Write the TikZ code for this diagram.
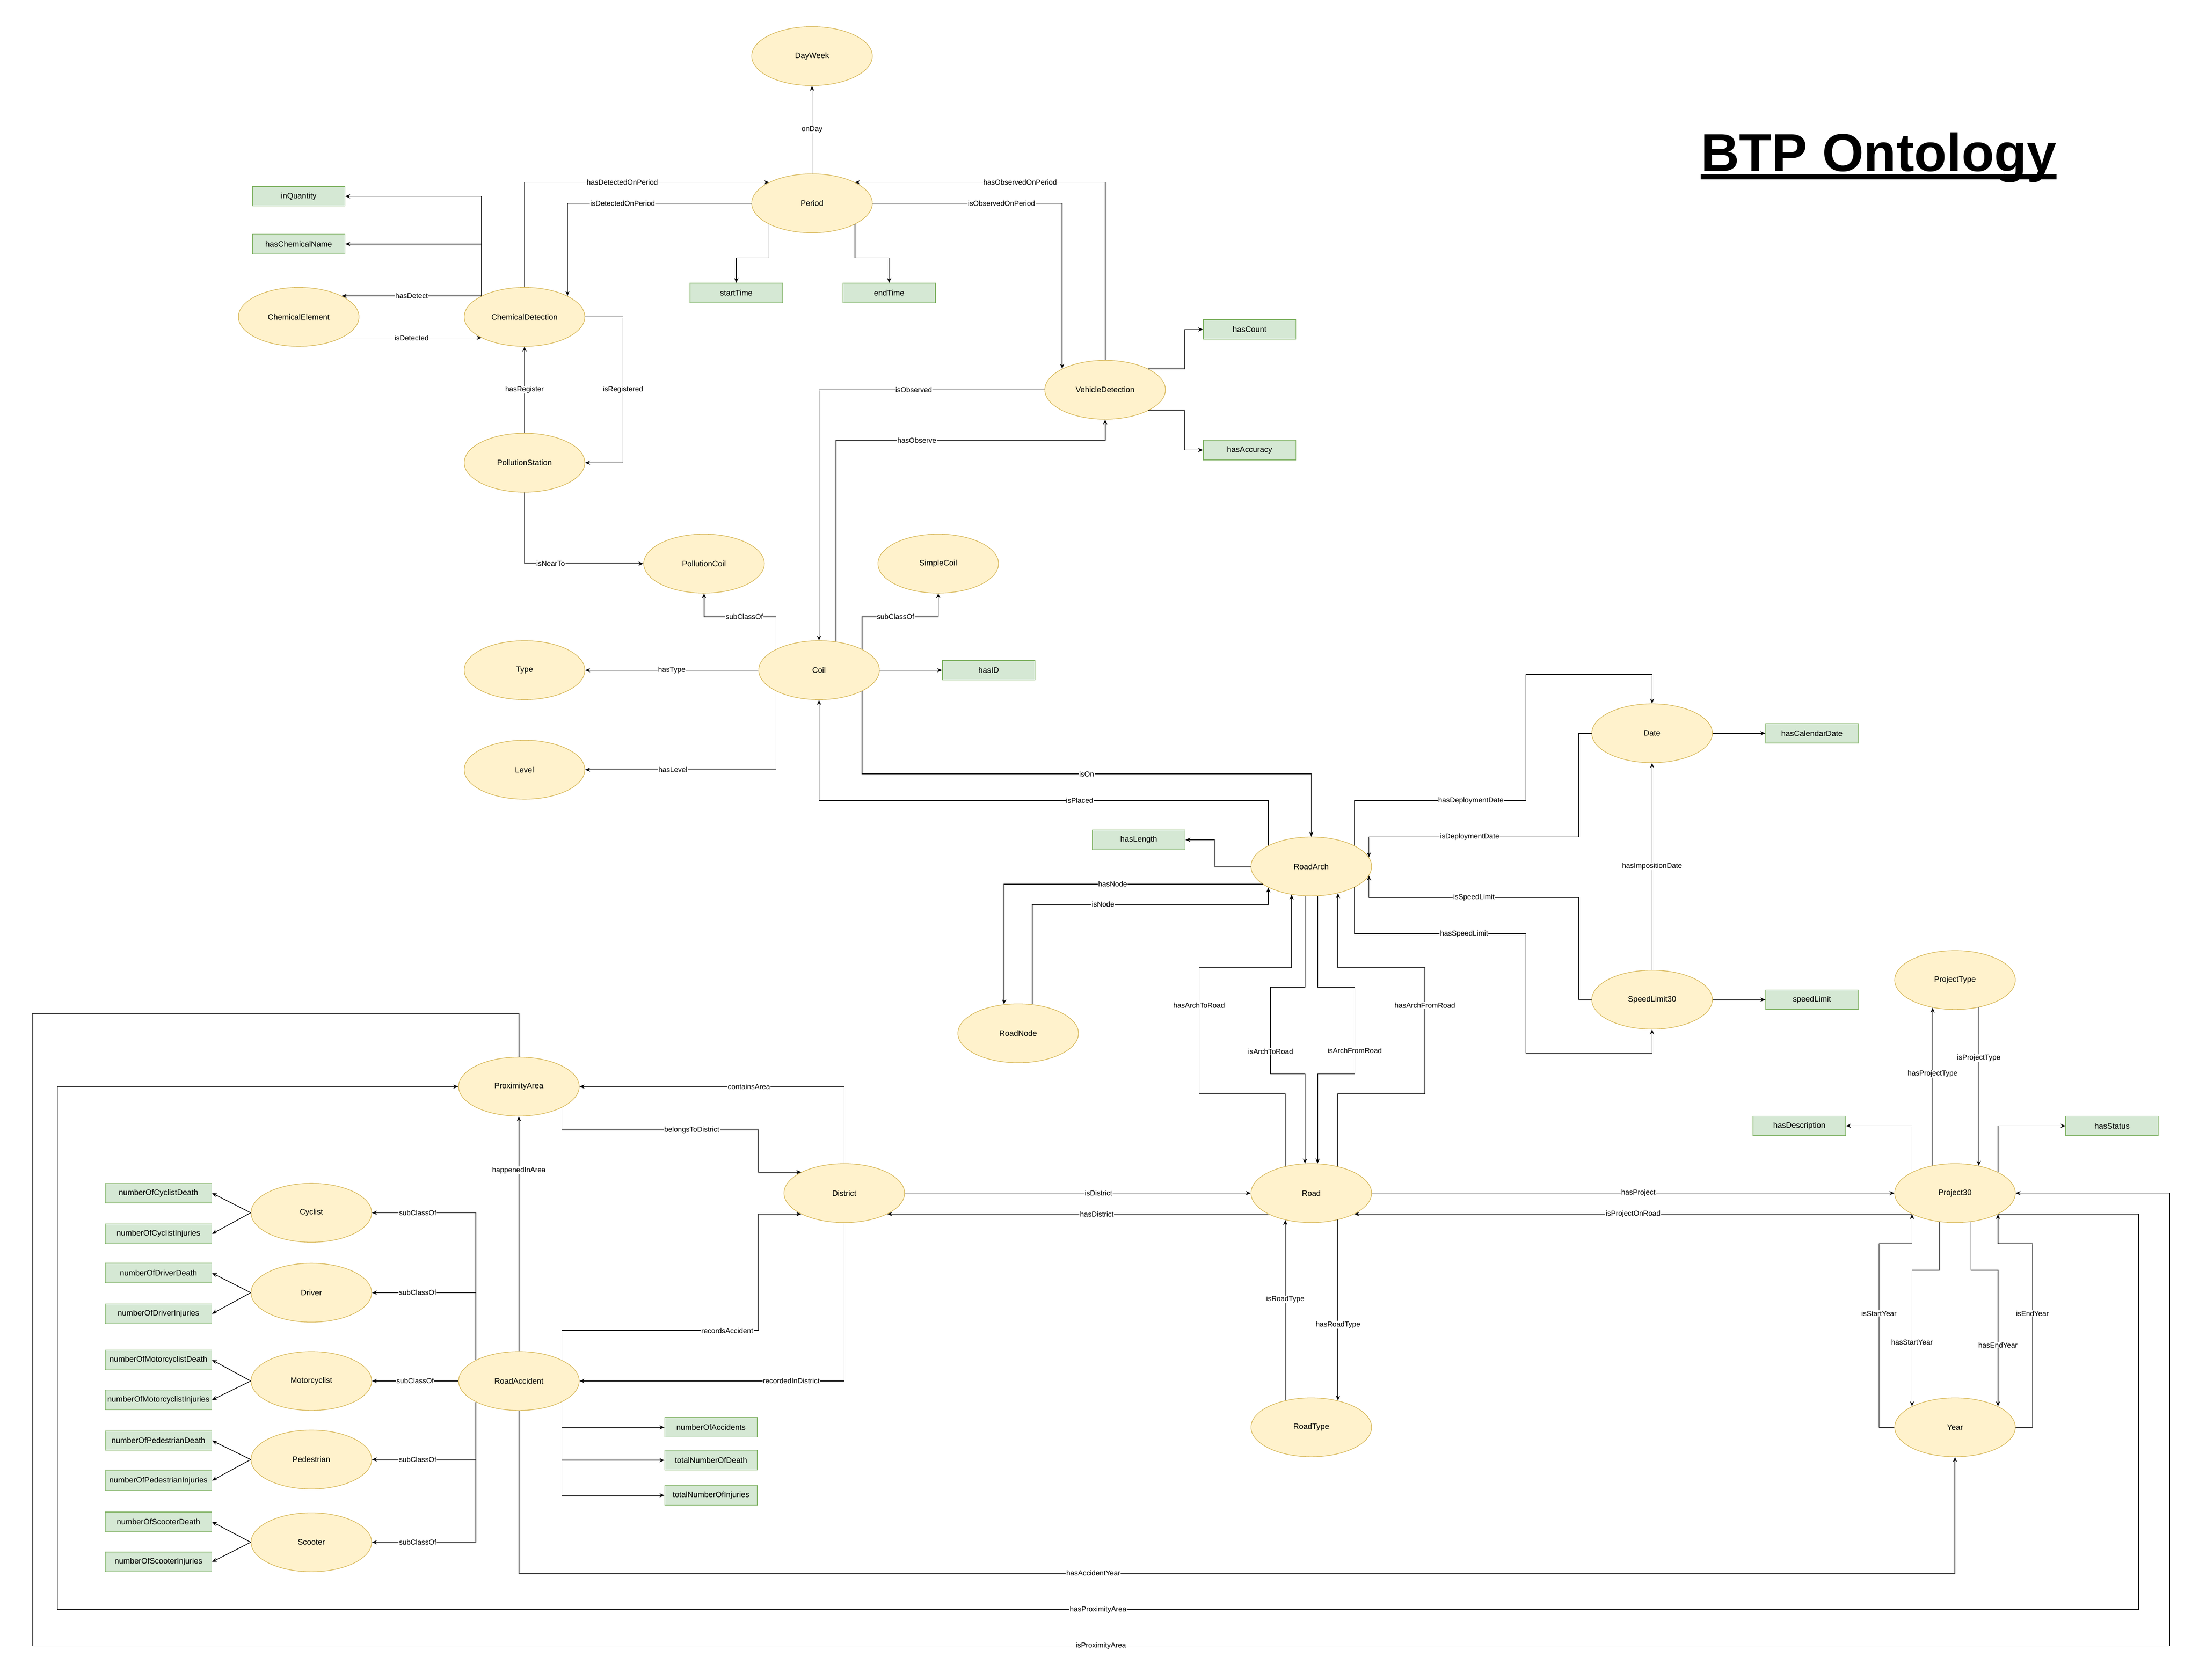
\documentclass[tikz,border=0pt]{standalone}
\usepackage{fontspec}
\setmainfont{Liberation Sans}
\usetikzlibrary{shapes.geometric,arrows.meta}
\definecolor{clsfill}{HTML}{FFF2CC}
\definecolor{clsline}{HTML}{D6B656}
\definecolor{propfill}{HTML}{D5E8D4}
\definecolor{propline}{HTML}{82B366}
\newcommand{\titleline}[1]{\setbox0\hbox{#1}\rlap{\rule[-0.146em]{\wd0}{0.094em}}\box0}
\tikzset{
  cls/.style={ellipse, draw=clsline, fill=clsfill, line width=0.7pt, minimum width=5.16cm, minimum height=2.52cm, inner sep=0pt, font=\fontsize{9.6}{11}\selectfont},
  prop/.style={rectangle, draw=propline, fill=propfill, line width=0.7pt, minimum width=3.96cm, minimum height=0.84cm, inner sep=0.5pt, font=\fontsize{9.6}{11}\selectfont},
  propw/.style={prop, minimum width=4.56cm},
  arr/.style={-{Stealth[length=6pt,width=5pt]}, line width=0.8pt},
  lbl/.style={fill=white, inner sep=0.6pt, font=\fontsize{8.8}{10}\selectfont}
}
\begin{document}
\begin{tikzpicture}[x=0.06cm, y=-0.06cm]
\useasboundingbox (0,0) rectangle (1568,1198);
\node at (1339.6, 122.3) [anchor=base, inner sep=0pt, font=\fontsize{65}{78}\selectfont\bfseries] (title) {\titleline{BTP Ontology}};
\node at (579, 40) [cls] (dw) {DayWeek};
\node at (579, 145) [cls] (per) {Period};
\node at (525, 209) [prop] (st) {startTime};
\node at (634, 209) [prop] (et) {endTime};
\node at (213, 140) [prop] (inq) {inQuantity};
\node at (213, 174) [prop] (hcn) {hasChemicalName};
\node at (213, 226) [cls] (ce) {ChemicalElement};
\node at (374, 226) [cls] (cd) {ChemicalDetection};
\node at (374, 330) [cls] (ps) {PollutionStation};
\node at (502, 402) [cls] (pc) {PollutionCoil};
\node at (669, 402) [cls] (sc) {SimpleCoil};
\node at (788, 278) [cls] (vd) {VehicleDetection};
\node at (891, 235) [prop] (hc) {hasCount};
\node at (891, 321) [prop] (hacc) {hasAccuracy};
\node at (584, 478) [cls] (coil) {Coil};
\node at (374, 478) [cls] (typ) {Type};
\node at (374, 549) [cls] (lvl) {Level};
\node at (705, 478) [prop] (hid) {hasID};
\node at (1178, 523) [cls] (date) {Date};
\node at (1292, 523) [prop] (hcd) {hasCalendarDate};
\node at (935, 618) [cls] (ra) {RoadArch};
\node at (812, 599) [prop] (hl) {hasLength};
\node at (726, 737) [cls] (rn) {RoadNode};
\node at (1178, 713) [cls] (sl) {SpeedLimit30};
\node at (1292, 713) [prop] (spl) {speedLimit};
\node at (1394, 699) [cls] (pt) {ProjectType};
\node at (1283, 803) [prop] (hdesc) {hasDescription};
\node at (1506, 803) [prop] (hst) {hasStatus};
\node at (1394, 851) [cls] (proj) {Project30};
\node at (1394, 1018) [cls] (yr) {Year};
\node at (935, 851) [cls] (road) {Road};
\node at (935, 1018) [cls] (rt) {RoadType};
\node at (602, 851) [cls] (dist) {District};
\node at (370, 775) [cls] (pa) {ProximityArea};
\node at (370, 985) [cls] (acc) {RoadAccident};
\node at (222, 865) [cls] (cyc) {Cyclist};
\node at (222, 922) [cls] (drv) {Driver};
\node at (222, 985) [cls] (mot) {Motorcyclist};
\node at (222, 1041) [cls] (ped) {Pedestrian};
\node at (222, 1100) [cls] (sco) {Scooter};
\node at (113, 851) [propw] (ncd) {numberOfCyclistDeath};
\node at (113, 880) [propw] (nci) {numberOfCyclistInjuries};
\node at (113, 908) [propw] (ndd) {numberOfDriverDeath};
\node at (113, 937) [propw] (ndi) {numberOfDriverInjuries};
\node at (113, 970) [propw] (nmd) {numberOfMotorcyclistDeath};
\node at (113, 998.5) [propw] (nmi) {numberOfMotorcyclistInjuries};
\node at (113, 1027.5) [propw] (npd) {numberOfPedestrianDeath};
\node at (113, 1056) [propw] (npi) {numberOfPedestrianInjuries};
\node at (113, 1085.5) [propw] (nsd) {numberOfScooterDeath};
\node at (113, 1114) [propw] (nsi) {numberOfScooterInjuries};
\node at (507, 1018) [prop] (noa) {numberOfAccidents};
\node at (507, 1041.5) [prop] (tnd) {totalNumberOfDeath};
\node at (507, 1066.5) [prop] (tni) {totalNumberOfInjuries};
\draw [arr] (per) to node [lbl] {onDay} (dw);
\draw [arr] (cd.north) |- node [lbl, pos=0.7] {hasDetectedOnPeriod} (per.154);
\draw [arr] (per.west) -| node [lbl, pos=0.35] {isDetectedOnPeriod} (cd.26);
\draw [arr] (vd.north) |- node [lbl, pos=0.67] {hasObservedOnPeriod} (per.26);
\draw [arr] (per.east) -| node [lbl, pos=0.34] {isObservedOnPeriod} (vd.154);
\draw [arr] (per.206) -- (per.206 |- 0,184) -| (st);
\draw [arr] (per.334) -- (per.334 |- 0,184) -| (et);
\draw [arr] (cd.154) |- (inq);
\draw [arr] (cd.154) |- (hcn);
\draw [arr] (cd.154) to node [lbl] {hasDetect} (ce.26);
\draw [arr] (ce.334) to node [lbl] {isDetected} (cd.206);
\draw [arr] (ps) to node [lbl] {hasRegister} (cd);
\draw [arr] (cd.east) -- ++(27,0) |- node [lbl, pos=0.25] {isRegistered} (ps.east);
\draw [arr] (ps.south) |- node [lbl, pos=0.61] {isNearTo} (pc.west);
\draw [arr] (vd.west) -| node [lbl, pos=0.29] {isObserved} (coil.north);
\draw [arr] (coil.59) |- node [lbl, pos=0.65] {hasObserve} (vd.south |- 0,314) -- (vd.south);
\draw [arr] (vd.26) -- ++(26,0) |- (hc);
\draw [arr] (vd.334) -- ++(26,0) |- (hacc);
\draw [arr] (coil.154) -- (coil.154 |- 0,440) -| node [lbl, pos=0.22] {subClassOf} (pc);
\draw [arr] (coil.26) -- (coil.26 |- 0,440) -| node [lbl, pos=0.22] {subClassOf} (sc);
\draw [arr] (coil) to node [lbl] {hasType} (typ);
\draw [arr] (coil.206) |- node [lbl, pos=0.77] {hasLevel} (lvl);
\draw [arr] (coil) to (hid);
\draw [arr] (coil.334) -- (coil.334 |- 0,552) -| node [lbl, pos=0.25] {isOn} (ra);
\draw [arr] (ra.154) -- (ra.154 |- 0,571) -| node [lbl, pos=0.21] {isPlaced} (coil);
\draw [arr] (ra.west) -- ++(-26,0) |- (hl);
\draw [arr] (ra.26) -- (ra.26 |- 0,571) -- node [lbl, pos=0.68] {hasDeploymentDate} (1088,571) |- (date.north |- 0,481) -- (date);
\draw [arr] (date.west) -- ++(-9,0) |- node [lbl, pos=0.76] {isDeploymentDate} (ra.9 |- 0,597) -- (ra.9);
\draw [arr] (date) to (hcd);
\draw [arr] (sl.west) -- ++(-9,0) |- node [lbl, pos=0.75] {isSpeedLimit} (ra.351 |- 0,640) -- (ra.351);
\draw [arr] (ra.334) -- (ra.334 |- 0,666) -- node [lbl, pos=0.64] {hasSpeedLimit} (1088,666) |- (sl.south |- 0,751) -- (sl);
\draw [arr] (sl) to node [lbl] {hasImpositionDate} (date);
\draw [arr] (sl) to (spl);
\draw [arr] (ra.200) -| node [lbl, pos=0.29] {hasNode} (rn.116);
\draw [arr] (rn.64) |- node [lbl, pos=0.65] {isNode} (ra.206 |- 0,645) -- (ra.206);
\draw [arr] (road.134) |- (855,780) -- node [lbl, pos=0.7] {hasArchToRoad} (855,690) -| (ra.235);
\draw [arr] (ra.258) |- (906,704) -- node [lbl, pos=0.74] {isArchToRoad} (906,766) -| (road.102);
\draw [arr] (ra.282) |- (966,704) -- node [lbl, pos=0.73] {isArchFromRoad} (966,766) -| (road.78);
\draw [arr] (road.45) |- (1016,780) -- node [lbl, pos=0.7] {hasArchFromRoad} (1016,690) -| (ra.315);
\draw [arr] (dist) to node [lbl, pos=0.56] {isDistrict} (road);
\draw [arr] (road.206) to node [lbl, pos=0.45] {hasDistrict} (dist.334);
\draw [arr] (rt.134) to node [lbl, pos=0.56] {isRoadType} (road.226);
\draw [arr] (road.315) to node [lbl, pos=0.58] {hasRoadType} (rt.45);
\draw [arr] (road) to node [lbl, pos=0.51] {hasProject} (proj);
\draw [arr] (proj.206) to node [lbl, pos=0.5] {isProjectOnRoad} (road.334);
\draw [arr] (proj.129) to node [lbl, pos=0.58] {hasProjectType} (pt.231);
\draw [arr] (pt.311) to node [lbl, pos=0.32] {isProjectType} (proj.49);
\draw [arr] (proj.154) |- (hdesc);
\draw [arr] (proj.26) |- (hst);
\draw [arr] (proj.241) |- (yr.154 |- 0,906) -- node [lbl, pos=0.53] {hasStartYear} (yr.154);
\draw [arr] (yr.west) -- ++(-11,0) |- node [lbl, pos=0.31] {isStartYear} (proj.206 |- 0,887) -- (proj.206);
\draw [arr] (proj.299) |- (yr.26 |- 0,906) -- node [lbl, pos=0.55] {hasEndYear} (yr.26);
\draw [arr] (yr.east) -- ++(12,0) |- node [lbl, pos=0.31] {isEndYear} (proj.334 |- 0,887) -- (proj.334);
\draw [arr] (proj.334) -- (proj.334 -| 1525,0) |- node [lbl, pos=0.75] {hasProximityArea} (41,1148) |- (pa.west);
\draw [arr] (pa.north) |- (23,723) |- node [lbl, pos=0.75] {isProximityArea} (1547,1174) |- (proj.east);
\draw [arr] (acc.south) |- node [lbl, pos=0.7] {hasAccidentYear} (yr.south |- 0,1122) -- (yr.south);
\draw [arr] (dist.north) |- node [lbl, pos=0.68] {containsArea} (pa.east);
\draw [arr] (pa.334) |- node [lbl, pos=0.83] {belongsToDistrict} (541,806) |- (dist.154);
\draw [arr] (acc.26) |- node [lbl, pos=0.92] {recordsAccident} (541,949) |- (dist.206);
\draw [arr] (dist.south) |- node [lbl, pos=0.6] {recordedInDistrict} (acc.east);
\draw [arr] (acc) to node [lbl, pos=0.77] {happenedInArea} (pa);
\draw [arr] (acc.334) |- (noa);
\draw [arr] (acc.334) |- (tnd);
\draw [arr] (acc.334) |- (tni);
\draw [arr] (acc.154) |- node [lbl, pos=0.78] {subClassOf} (cyc);
\draw [arr] (acc.154) |- node [lbl, pos=0.78] {subClassOf} (drv);
\draw [arr] (acc) to node [lbl] {subClassOf} (mot);
\draw [arr] (acc.206) |- node [lbl, pos=0.78] {subClassOf} (ped);
\draw [arr] (acc.206) |- node [lbl, pos=0.78] {subClassOf} (sco);
\draw [arr] (cyc.west) to (ncd.east);
\draw [arr] (cyc.west) to (nci.east);
\draw [arr] (drv.west) to (ndd.east);
\draw [arr] (drv.west) to (ndi.east);
\draw [arr] (mot.west) to (nmd.east);
\draw [arr] (mot.west) to (nmi.east);
\draw [arr] (ped.west) to (npd.east);
\draw [arr] (ped.west) to (npi.east);
\draw [arr] (sco.west) to (nsd.east);
\draw [arr] (sco.west) to (nsi.east);
\end{tikzpicture}
\end{document}
